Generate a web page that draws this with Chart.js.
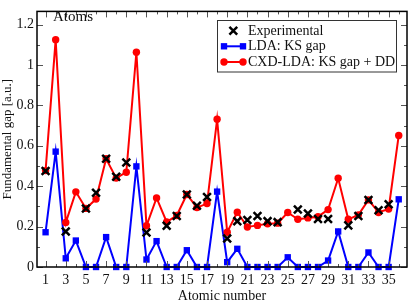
<!DOCTYPE html>
<html><head><meta charset="utf-8">
<script src="https://cdn.jsdelivr.net/npm/chart.js@4/dist/chart.umd.min.js"></script>
<style>html,body{margin:0;padding:0;background:#fff;}#wrap{width:415px;height:302px;position:relative;}</style>
</head><body><div id="wrap"><canvas id="c" width="415" height="302"></canvas></div>
<script>
const atomicNumbers = [1,2,3,4,5,6,7,8,9,10,11,12,13,14,15,16,17,18,19,20,21,22,23,24,25,26,27,28,29,30,31,32,33,34,35,36];
const expGap = [0.475,null,0.176,null,0.29,0.367,0.536,0.447,0.517,null,0.171,null,0.204,0.252,0.359,0.303,0.346,null,0.141,0.227,0.233,0.252,0.227,0.222,null,0.285,0.265,0.238,0.238,null,0.206,0.252,0.332,0.281,0.311,null];
const ldaGap = [0.172,0.571,0.043,0.131,0,0,0.148,0,0,0.498,0.037,0.128,0,0,0.083,0,0,0.373,0.024,0.09,0,0,0,0,0.048,0,0,0,0.032,0.176,0,0,0.072,0,0,0.335];
const cxdGap = [0.477,1.125,0.22,0.372,0.29,0.336,0.536,0.44,0.469,1.063,0.204,0.342,0.223,0.255,0.359,0.294,0.314,0.731,0.172,0.271,0.198,0.206,0.214,0.217,0.27,0.236,0.243,0.249,0.284,0.439,0.236,0.258,0.332,0.27,0.287,0.651];
const seriesLabels = ['Experimental','LDA: KS gap','CXD-LDA: KS gap + DD'];
const xTickValues = [1,3,5,7,9,11,13,15,17,19,21,23,25,27,29,31,33,35];
const yTickValues = [0,0.2,0.4,0.6,0.8,1,1.2];
const yTickLabels = ['0','0.2','0.4','0.6','0.8','1','1.2'];
const panelLabel = 'Atoms';
const xTitle = 'Atomic number';
const yTitle = 'Fundamental gap [a.u.]';

const SERIF = "'Liberation Serif','DejaVu Serif',serif";
const pts = arr => atomicNumbers.map((z,i)=>({x:z,y:arr[i]}));

const frameTicks = {
  id:'frameTicks',
  afterDatasetsDraw(chart){
    const {ctx, chartArea:a, scales:{x,y}} = chart;
    ctx.save();
    ctx.strokeStyle = '#555'; ctx.lineWidth = 1;
    ctx.beginPath();
    for (let v = 1; v <= 36; v++) {
      const px = Math.round(x.getPixelForValue(v)) + 0.5;
      const len = (v % 2 === 1) ? 6 : 3;
      ctx.moveTo(px, a.bottom); ctx.lineTo(px, a.bottom - len);
      ctx.moveTo(px, a.top); ctx.lineTo(px, a.top + len);
    }
    for (let k = 0; k <= 12; k++) {
      const v = k / 10;
      const py = Math.round(y.getPixelForValue(v)) + 0.5;
      const len = (k % 2 === 0) ? 6 : 3;
      ctx.moveTo(a.left, py); ctx.lineTo(a.left + len, py);
      ctx.moveTo(a.right, py); ctx.lineTo(a.right - len, py);
    }
    ctx.stroke();
    ctx.strokeStyle = '#000'; ctx.lineWidth = 1.5;
    ctx.strokeRect(a.left, a.top, a.right - a.left, a.bottom - a.top);
    // panel label
    ctx.fillStyle = '#111';
    ctx.font = '15px ' + SERIF;
    ctx.textBaseline = 'alphabetic'; ctx.textAlign = 'left';
    ctx.fillText(panelLabel, a.left + 16, 20.5);
    // legend
    const bx = 217.5, by = 20.5, bw = 179, bh = 51.5;
    ctx.fillStyle = '#fff';
    ctx.fillRect(bx, by, bw, bh);
    ctx.strokeStyle = '#333'; ctx.lineWidth = 1;
    ctx.strokeRect(bx, by, bw, bh);
    const rows = [30.7, 46.3, 62];
    const ds = chart.data.datasets;
    ctx.font = '14px ' + SERIF;
    ctx.textBaseline = 'middle';
    [0,1,2].forEach((di, r) => {
      const d = ds[di]; const cy = rows[r];
      const opt = {pointStyle:d.pointStyle, radius:d.pointRadius, borderWidth:d.pointBorderWidth};
      ctx.fillStyle = d.pointBackgroundColor; ctx.strokeStyle = d.pointBorderColor;
      if (d.showLine === false) {
        ctx.lineWidth = d.pointBorderWidth;
        Chart.helpers.drawPoint(ctx, opt, 233.3, cy);
      } else {
        ctx.strokeStyle = d.borderColor; ctx.lineWidth = 2;
        ctx.beginPath(); ctx.moveTo(223, cy); ctx.lineTo(244, cy); ctx.stroke();
        Chart.helpers.drawPoint(ctx, opt, 224, cy);
        Chart.helpers.drawPoint(ctx, opt, 243, cy);
      }
      ctx.fillStyle = '#111';
      ctx.fillText(d.label, 248, cy + 0.5);
    });
    ctx.restore();
  }
};

new Chart(document.getElementById('c'), {
  type: 'line',
  data: {
    datasets: [
      { label: seriesLabels[0], data: pts(expGap), showLine:false, order:0,
        pointStyle:'crossRot', pointRadius:5.5, pointBorderWidth:2.5,
        borderColor:'#000', backgroundColor:'#000', pointBorderColor:'#000', pointBackgroundColor:'#000', clip:false },
      { label: seriesLabels[1], data: pts(ldaGap), order:2, borderWidth:2,
        pointStyle:'rect', pointRadius:4.5, pointBorderWidth:0,
        borderColor:'#0000ff', backgroundColor:'#0000ff', pointBorderColor:'#0000ff', pointBackgroundColor:'#0000ff', clip:false },
      { label: seriesLabels[2], data: pts(cxdGap), order:1, borderWidth:2,
        pointStyle:'circle', pointRadius:3.7, pointBorderWidth:0,
        borderColor:'#ff0000', backgroundColor:'#ff0000', pointBorderColor:'#ff0000', pointBackgroundColor:'#ff0000', clip:false }
    ]
  },
  options: {
    responsive:false, animation:false, devicePixelRatio:1,
    layout:{padding:{top:2,right:1,left:0,bottom:0}},
    plugins:{legend:{display:false}, tooltip:{enabled:false}},
    elements:{line:{tension:0}},
    scales:{
      x:{ type:'linear', min:0.15, max:36.82,
        afterBuildTicks: s => { s.ticks = xTickValues.map(v=>({value:v})); },
        afterFit: s => { s.height = 35; },
        grid:{display:false, drawTicks:false}, border:{display:false},
        ticks:{ color:'#111', font:{family:SERIF, size:14}, padding:5, maxRotation:0, autoSkip:false,
          callback: v => String(v) },
        title:{display:true, text:xTitle, color:'#111', font:{family:SERIF, size:14}, padding:{top:0,bottom:-3}}
      },
      y:{ type:'linear', min:0, max:1.265,
        afterBuildTicks: s => { s.ticks = yTickValues.map(v=>({value:v})); },
        afterFit: s => { s.width = 37; },
        grid:{display:false, drawTicks:false}, border:{display:false},
        ticks:{ color:'#111', font:{family:SERIF, size:14}, padding:3,
          callback: (v,i) => yTickLabels[yTickValues.indexOf(v)] },
        title:{display:true, text:yTitle, color:'#111', font:{family:SERIF, size:13}, padding:{top:0,bottom:0}}
      }
    }
  },
  plugins:[frameTicks]
});
</script></body></html>
